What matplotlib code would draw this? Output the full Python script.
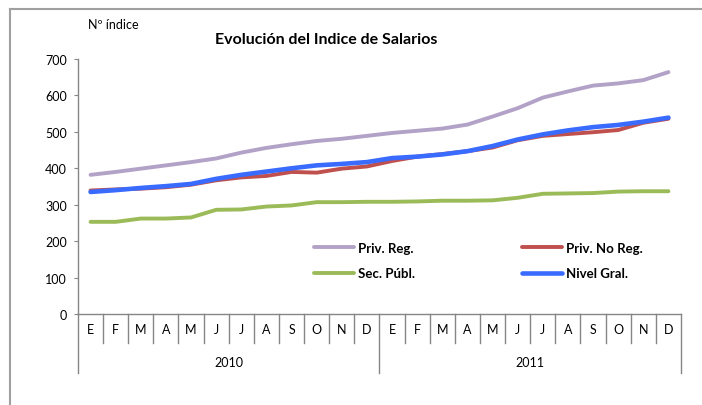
import matplotlib
matplotlib.use("Agg")
from matplotlib import pyplot as plt
from matplotlib.lines import Line2D
import matplotlib.transforms as mtransforms

plt.rcParams['font.family'] = ['Lato', 'DejaVu Sans']

months = ['E', 'F', 'M', 'A', 'M', 'J', 'J', 'A', 'S', 'O', 'N', 'D']
years = ['2010', '2011']

priv_reg = [382, 390, 399, 408, 417, 427, 443, 456, 466, 475, 481, 489,
            497, 503, 509, 520, 542, 565, 594, 611, 627, 633, 642, 664]
priv_no_reg = [339, 342, 344, 348, 355, 367, 375, 379, 390, 388, 399, 405,
               420, 432, 439, 447, 457, 477, 489, 494, 499, 505, 525, 536]
sec_publ = [253, 253, 262, 262, 265, 286, 287, 295, 298, 307, 307, 308,
            308, 309, 311, 311, 312, 319, 330, 331, 332, 336, 337, 337]
nivel_gral = [335, 340, 346, 351, 357, 371, 382, 391, 400, 408, 412, 417,
              428, 432, 438, 447, 461, 479, 493, 504, 513, 519, 528, 539]

series = [
    ('Priv. Reg.', priv_reg, '#B3A2C7', 2.8),
    ('Priv. No Reg.', priv_no_reg, '#C0504D', 2.8),
    ('Sec. Públ.', sec_publ, '#9BBB59', 2.8),
    ('Nivel Gral.', nivel_gral, '#3A6BFF', 3.3),
]

W, H = 702, 406
fig = plt.figure(figsize=(W / 100, H / 100), dpi=100)
ax = fig.add_axes([78 / W, 1 - 315 / H, (681 - 78) / W, (315 - 60) / H])

x = list(range(len(months) * len(years)))
lines = {}
for name, vals, col, lw in series:
    lines[name], = ax.plot(x, vals, color=col, lw=lw, solid_capstyle='round', label=name)

grey = '#868686'
fs = 9
ax.set_xlim(-0.5, len(x) - 0.5)
ax.set_ylim(0, 700)
ax.set_yticks(range(0, 701, 100))
ax.tick_params(axis='y', direction='out', length=3, width=0.8, color=grey,
               labelsize=fs, pad=5, labelcolor='black')
ax.set_xticks([])
for side in ['top', 'right']:
    ax.spines[side].set_visible(False)
for side in ['left', 'bottom']:
    ax.spines[side].set_color(grey)
    ax.spines[side].set_linewidth(1.0)

# two-level category axis
trans = mtransforms.blended_transform_factory(ax.transData, ax.transAxes)
ax_h = 315 - 60
for i in range(len(x) + 1):
    edge = i - 0.5
    depth = 59 / ax_h if i % 12 == 0 else 29 / ax_h
    ax.plot([edge, edge], [0, -depth], color=grey, lw=1.0, transform=trans, clip_on=False)
for i in x:
    ax.text(i, -15 / ax_h, months[i % 12], transform=trans, ha='center', va='center', fontsize=fs)
for j, yr in enumerate(years):
    ax.text(j * 12 + 5.5, -48 / ax_h, yr, transform=trans, ha='center', va='center', fontsize=fs)

# titles
fig.text(326 / W, 1 - 40 / H, 'Evolución del Indice de Salarios', ha='center', va='center',
         fontsize=11.5, fontweight='bold')
fig.text(88 / W, 1 - 25 / H, 'Nº índice', ha='left', va='center', fontsize=fs)

# legend
order = ['Priv. Reg.', 'Sec. Públ.', 'Priv. No Reg.', 'Nivel Gral.']
leg = fig.legend([lines[n] for n in order], order, ncol=2, frameon=False,
                 loc='upper left', bbox_to_anchor=(314 / W, 1 - 243 / H),
                 prop={'weight': 'bold', 'size': 9.5}, handlelength=3.0,
                 handletextpad=0.3, columnspacing=8.15, labelspacing=1.0,
                 borderpad=0, borderaxespad=0)

# outer frame (top and left edges)
fig.add_artist(Line2D([10 / W, 10 / W], [0, 1 - 10 / H], color='#A0A0A0', lw=1.5,
                      transform=fig.transFigure))
fig.add_artist(Line2D([10 / W, 1], [1 - 10 / H, 1 - 10 / H], color='#A0A0A0', lw=1.5,
                      transform=fig.transFigure))

fig.savefig('out.png', dpi=100)
